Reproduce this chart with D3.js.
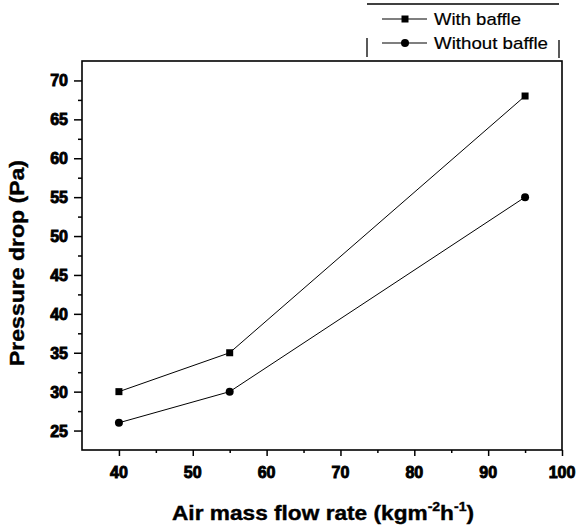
<!DOCTYPE html>
<html>
<head>
<meta charset="utf-8">
<script src="https://cdn.jsdelivr.net/npm/d3@7"></script>
<style>
  html, body { margin: 0; padding: 0; background: #fff; }
  svg { display: block; }
  text { font-family: "Liberation Sans", Arial, sans-serif; fill: #000; }
  .tick-label { font-size: 16px; font-weight: bold; stroke: #000; stroke-width: 0.9px; }
  .axis-title { font-weight: bold; stroke: #000; stroke-width: 0.4px; }
</style>
</head>
<body>
<svg id="chart" width="580" height="528"></svg>
<script>
// Air mass flow rate (kg m^-2 h^-1)
const flowRates = [40, 55, 95];
// Pressure drop (Pa)
const withBaffle = [30, 35, 68];
const withoutBaffle = [26, 30, 55];
const seriesNames = ["With baffle", "Without baffle"];
const xTicks = [40, 50, 60, 70, 80, 90, 100];
const yTicks = [25, 30, 35, 40, 45, 50, 55, 60, 65, 70];

const svg = d3.select("#chart");
const m = { left: 82, right: 562, top: 61, bottom: 450 };

const x = d3.scaleLinear().domain([35, 100]).range([m.left, m.right]);
const y = d3.scaleLinear().domain([22.5, 72.5]).range([m.bottom, m.top]);

// Plot frame
svg.append("rect")
  .attr("x", m.left).attr("y", m.top)
  .attr("width", m.right - m.left).attr("height", m.bottom - m.top)
  .attr("fill", "none").attr("stroke", "#000").attr("stroke-width", 1.6);

// Tick marks (major and minor) drawn by d3 axes, labels added separately
function ticks(axis, values, size, transform) {
  svg.append("g").attr("transform", transform)
    .call(axis.tickValues(values).tickSize(size).tickFormat(""))
    .call(g => g.select(".domain").remove())
    .selectAll("line").attr("stroke-width", 1.5);
}
ticks(d3.axisBottom(x), d3.range(45, 100, 10), 3, `translate(0,${m.bottom})`);
ticks(d3.axisLeft(y), d3.range(27.5, 72.5, 5), 4, `translate(${m.left},0)`);
ticks(d3.axisBottom(x), xTicks, 6, `translate(0,${m.bottom})`);
ticks(d3.axisLeft(y), yTicks, 8, `translate(${m.left},0)`);

// Tick labels
svg.append("g").selectAll("text").data(xTicks).join("text")
  .attr("class", "tick-label")
  .attr("x", d => x(d)).attr("y", m.bottom + 28)
  .attr("text-anchor", "middle")
  .text(d => d);

svg.append("g").selectAll("text").data(yTicks).join("text")
  .attr("class", "tick-label")
  .attr("x", m.left - 14).attr("y", d => y(d) + 6)
  .attr("text-anchor", "end")
  .text(d => d);

// Axis titles
svg.append("text")
  .attr("class", "axis-title")
  .attr("transform", `translate(24,${263}) rotate(-90)`)
  .attr("text-anchor", "middle")
  .style("font-size", "21px")
  .attr("textLength", 206).attr("lengthAdjust", "spacingAndGlyphs")
  .text("Pressure drop (Pa)");

const xt = svg.append("text")
  .attr("class", "axis-title")
  .attr("x", 323).attr("y", 520)
  .attr("text-anchor", "middle")
  .style("font-size", "21px")
  .attr("textLength", 302).attr("lengthAdjust", "spacingAndGlyphs");
xt.append("tspan").text("Air mass flow rate (kgm");
xt.append("tspan").style("font-size", "13px").attr("dy", -9).text("-2");
xt.append("tspan").attr("dy", 9).text("h");
xt.append("tspan").style("font-size", "13px").attr("dy", -9).text("-1");
xt.append("tspan").attr("dy", 9).text(")");

// Series lines and markers
const line = d3.line().x(d => x(d[0])).y(d => y(d[1]));
const seriesData = [withBaffle, withoutBaffle].map(vals => flowRates.map((f, i) => [f, vals[i]]));

seriesData.forEach(pts => {
  svg.append("path").datum(pts).attr("d", line)
    .attr("fill", "none").attr("stroke", "#000").attr("stroke-width", 1);
});

svg.append("g").selectAll("rect").data(seriesData[0]).join("rect")
  .attr("x", d => x(d[0]) - 3.5).attr("y", d => y(d[1]) - 3.5)
  .attr("width", 7).attr("height", 7).attr("fill", "#000");

svg.append("g").selectAll("circle").data(seriesData[1]).join("circle")
  .attr("cx", d => x(d[0])).attr("cy", d => y(d[1])).attr("r", 4).attr("fill", "#000");

// Legend
const lg = svg.append("g");
lg.append("line").attr("x1", 367).attr("x2", 559).attr("y1", 4).attr("y2", 4)
  .attr("stroke", "#000").attr("stroke-width", 1.3);
lg.append("line").attr("x1", 367).attr("x2", 367).attr("y1", 38).attr("y2", 57)
  .attr("stroke", "#000").attr("stroke-width", 1.3);
lg.append("line").attr("x1", 559).attr("x2", 559).attr("y1", 40).attr("y2", 58)
  .attr("stroke", "#000").attr("stroke-width", 1.3);

const legendWidths = [87, 114];
seriesNames.forEach((name, i) => {
  const ly = 19 + i * 24;
  lg.append("line").attr("x1", 382).attr("x2", 427).attr("y1", ly).attr("y2", ly)
    .attr("stroke", "#000").attr("stroke-width", 1.2);
  if (i === 0) {
    lg.append("rect").attr("x", 405 - 3.5).attr("y", ly - 3.5).attr("width", 7).attr("height", 7).attr("fill", "#000");
  } else {
    lg.append("circle").attr("cx", 405).attr("cy", ly).attr("r", 4).attr("fill", "#000");
  }
  lg.append("text").attr("x", 434).attr("y", ly + 6)
    .style("font-size", "17px").style("stroke", "#000").style("stroke-width", "0.2px")
    .attr("textLength", legendWidths[i]).attr("lengthAdjust", "spacingAndGlyphs")
    .text(name);
});
</script>
</body>
</html>
